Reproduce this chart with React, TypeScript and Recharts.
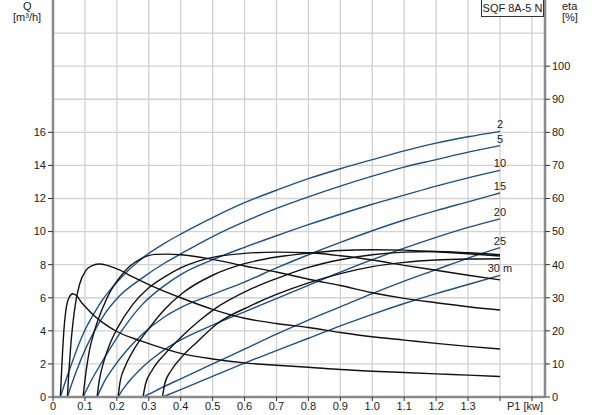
import { LineChart, Line, XAxis, YAxis, CartesianGrid } from 'recharts';

type Pt = [number, number];

// head of each curve pair, printed at the end of the flow curves
const heads = ['2', '5', '10', '15', '20', '25', '30 m'];

// flow Q [m³/h] against input power P1 [kW]
const flow2: Pt[] = [[0.023, 0], [0.04, 1.0], [0.062, 2.2], [0.08, 3.15], [0.104, 4.2], [0.13, 5.1], [0.156, 5.9], [0.208, 7.1], [0.28, 8.4], [0.35, 9.3], [0.4, 9.85], [0.5, 10.85], [0.6, 11.75], [0.7, 12.5], [0.8, 13.2], [0.9, 13.8], [1.0, 14.35], [1.1, 14.88], [1.2, 15.35], [1.3, 15.73], [1.4, 16.06]];
const flow5: Pt[] = [[0.045, 0], [0.07, 1.4], [0.104, 3.0], [0.13, 4.0], [0.156, 4.85], [0.208, 6.1], [0.28, 7.2], [0.35, 8.1], [0.4, 8.65], [0.5, 9.7], [0.6, 10.6], [0.7, 11.4], [0.8, 12.1], [0.9, 12.75], [1.0, 13.35], [1.1, 13.9], [1.2, 14.35], [1.3, 14.8], [1.4, 15.2]];
const flow10: Pt[] = [[0.094, 0], [0.12, 1.0], [0.156, 2.2], [0.208, 3.8], [0.28, 5.6], [0.35, 6.75], [0.4, 7.4], [0.5, 8.3], [0.6, 9.05], [0.7, 9.75], [0.8, 10.42], [0.9, 11.05], [1.0, 11.65], [1.1, 12.2], [1.2, 12.75], [1.3, 13.25], [1.4, 13.7]];
const flow15: Pt[] = [[0.138, 0], [0.16, 0.9], [0.19, 1.8], [0.23, 2.8], [0.28, 3.8], [0.35, 4.85], [0.4, 5.4], [0.5, 6.2], [0.6, 6.95], [0.7, 7.8], [0.8, 8.6], [0.9, 9.35], [1.0, 10.05], [1.1, 10.7], [1.2, 11.27], [1.3, 11.8], [1.4, 12.33]];
const flow20: Pt[] = [[0.204, 0], [0.215, 0.35], [0.23, 0.75], [0.25, 1.2], [0.28, 1.8], [0.32, 2.45], [0.36, 3.0], [0.4, 3.45], [0.5, 4.35], [0.6, 5.15], [0.7, 5.95], [0.8, 6.75], [0.9, 7.55], [1.0, 8.3], [1.1, 9.0], [1.2, 9.65], [1.3, 10.25], [1.4, 10.77]];
const flow25: Pt[] = [[0.282, 0], [0.3, 0.17], [0.35, 0.65], [0.4, 1.1], [0.5, 2.0], [0.6, 2.9], [0.7, 3.8], [0.8, 4.65], [0.9, 5.45], [1.0, 6.25], [1.1, 7.0], [1.2, 7.7], [1.3, 8.4], [1.4, 9.03]];
const flow30: Pt[] = [[0.343, 0], [0.4, 0.45], [0.5, 1.25], [0.6, 2.05], [0.7, 2.8], [0.8, 3.55], [0.9, 4.3], [1.0, 5.0], [1.1, 5.65], [1.2, 6.25], [1.3, 6.8], [1.4, 7.35]];

// efficiency eta [%] against P1 [kW]
const eta2: Pt[] = [[0.023, 0], [0.028, 10], [0.034, 20], [0.04, 26], [0.05, 30], [0.062, 31.2], [0.075, 30.5], [0.09, 28.5], [0.104, 27], [0.13, 24.5], [0.156, 22.5], [0.2, 19.8], [0.28, 16.8], [0.4, 13.2], [0.5, 11.5], [0.6, 10.3], [0.7, 9.6], [0.8, 9.0], [0.9, 8.3], [1.0, 7.8], [1.1, 7.4], [1.2, 7.0], [1.3, 6.6], [1.4, 6.2]];
const eta5: Pt[] = [[0.045, 0], [0.05, 8], [0.056, 16], [0.062, 22], [0.07, 28], [0.083, 34], [0.104, 38.4], [0.125, 39.8], [0.145, 40.2], [0.17, 39.8], [0.208, 38.4], [0.25, 36.3], [0.3, 34], [0.4, 30], [0.5, 26.5], [0.6, 23.8], [0.7, 22.2], [0.8, 21], [0.9, 19.5], [1.0, 18.2], [1.1, 17.2], [1.2, 16.2], [1.3, 15.3], [1.4, 14.5]];
const eta10: Pt[] = [[0.094, 0], [0.1, 5], [0.114, 14], [0.13, 20], [0.156, 27], [0.18, 32], [0.208, 36], [0.24, 39.5], [0.28, 42], [0.32, 43.1], [0.36, 43.2], [0.4, 43], [0.5, 41.6], [0.6, 39.6], [0.7, 37.8], [0.8, 35.6], [0.9, 33.7], [1.0, 31.5], [1.1, 29.8], [1.2, 28.5], [1.3, 27.3], [1.4, 26.3]];
const eta15: Pt[] = [[0.138, 0], [0.145, 5], [0.16, 11], [0.178, 16], [0.2, 20.5], [0.25, 28], [0.3, 33], [0.355, 36.6], [0.4, 39], [0.46, 41.2], [0.5, 42.2], [0.6, 43.4], [0.7, 43.8], [0.8, 43.6], [0.9, 42.7], [1.0, 41.4], [1.1, 39.8], [1.2, 38.3], [1.3, 36.8], [1.4, 35.4]];
const eta20: Pt[] = [[0.204, 0], [0.21, 4.5], [0.225, 9], [0.25, 13.8], [0.303, 21], [0.35, 26.5], [0.407, 31.5], [0.5, 36.8], [0.6, 40.3], [0.7, 42.3], [0.8, 43.5], [0.9, 44.3], [1.0, 44.5], [1.1, 44.4], [1.2, 43.9], [1.3, 43.3], [1.4, 42.6]];
const eta25: Pt[] = [[0.282, 0], [0.29, 4], [0.31, 8], [0.355, 13.5], [0.4, 18], [0.46, 23.2], [0.5, 26.2], [0.617, 32.5], [0.7, 35.8], [0.8, 39.2], [0.9, 41.5], [1.0, 43], [1.1, 43.8], [1.2, 44], [1.3, 43.6], [1.4, 43]];
const eta30: Pt[] = [[0.343, 0], [0.35, 4], [0.37, 8], [0.407, 12.5], [0.45, 16.5], [0.512, 22], [0.617, 27.5], [0.7, 31], [0.8, 34.5], [0.9, 37.3], [1.0, 39.4], [1.1, 40.7], [1.2, 41.4], [1.3, 41.7], [1.4, 41.8]];

const flowCurves = [flow2, flow5, flow10, flow15, flow20, flow25, flow30];
const etaCurves = [eta2, eta5, eta10, eta15, eta20, eta25, eta30];

const pTicks = [0, 0.1, 0.2, 0.3, 0.4, 0.5, 0.6, 0.7, 0.8, 0.9, 1.0, 1.1, 1.2, 1.3, 1.4, 1.5];
const qTicks = [0, 2, 4, 6, 8, 10, 12, 14, 16];
const qGrid = [2, 4, 6, 8, 10, 12, 14, 16, 18, 20, 22];
const etaTicks = [0, 10, 20, 30, 40, 50, 60, 70, 80, 90, 100];

const BLUE = '#1d4f8a';
const AXIS = '#8a8a8a';
const FONT = '"Liberation Sans", Arial, sans-serif';
const tickStyle = { fontSize: 11, fill: '#222', fontFamily: FONT };

const toRows = (pts: Pt[]) => pts.map(([p, v]) => ({ p, v }));

const endLabel = (text: string, last: number) => (props: any) => {
  if (props.index !== last) return null;
  return (
    <text x={props.x} y={props.y - 3} textAnchor="middle" fontSize={11} fontFamily={FONT} fill="#222">
      {text}
    </text>
  );
};

const overlay = (left: number, top: number, text: string) => (
  <div style={{ position: 'absolute', left, top, fontSize: 11, fontFamily: FONT, color: '#222', lineHeight: '12px', whiteSpace: 'nowrap' }}>
    {text}
  </div>
);

export default function App() {
  return (
    <div style={{ position: 'absolute', left: 0, top: 0, width: 593, height: 415, background: '#fff' }}>
      <LineChart width={593} height={415} margin={{ top: 0, right: 0, bottom: 0, left: 0 }}>
        <CartesianGrid
          yAxisId="q"
          stroke="#d2d2d2"
          strokeWidth={1.3}
          horizontalValues={qGrid}
          verticalValues={pTicks.slice(1)}
        />
        <XAxis
          type="number"
          dataKey="p"
          domain={[0, 1.541]}
          ticks={pTicks}
          interval={0}
          height={18}
          tickSize={4}
          tickMargin={1}
          tick={tickStyle}
          tickFormatter={(v: number) => (v > 1.35 ? '' : v === 0 ? '0' : v.toFixed(1))}
          axisLine={{ stroke: AXIS, strokeWidth: 2.5 }}
          tickLine={{ stroke: '#333' }}
        />
        <YAxis
          yAxisId="q"
          orientation="left"
          type="number"
          domain={[0, 24]}
          ticks={qTicks}
          interval={0}
          width={53}
          tickSize={5}
          tickMargin={2}
          tick={tickStyle}
          axisLine={{ stroke: AXIS, strokeWidth: 2.5 }}
          tickLine={{ stroke: '#333' }}
        />
        <YAxis
          yAxisId="eta"
          orientation="right"
          type="number"
          domain={[0, 120]}
          ticks={etaTicks}
          interval={0}
          width={48}
          tickSize={5}
          tickMargin={2}
          tick={tickStyle}
          axisLine={{ stroke: AXIS, strokeWidth: 2.5 }}
          tickLine={{ stroke: '#333' }}
        />
        {flowCurves.map((c, i) => (
          <Line
            key={'q' + i}
            yAxisId="q"
            data={toRows(c)}
            dataKey="v"
            type="monotone"
            stroke={BLUE}
            strokeWidth={1.4}
            dot={false}
            isAnimationActive={false}
            label={endLabel(heads[i], c.length - 1)}
          />
        ))}
        {etaCurves.map((c, i) => (
          <Line
            key={'e' + i}
            yAxisId="eta"
            data={toRows(c)}
            dataKey="v"
            type="monotone"
            stroke="#111"
            strokeWidth={1.4}
            dot={false}
            isAnimationActive={false}
          />
        ))}
      </LineChart>
      {overlay(23, 0, 'Q')}
      {overlay(13, 11, '[m³/h]')}
      {overlay(562, 0, 'eta')}
      {overlay(562, 11, '[%]')}
      {overlay(507, 400, 'P1 [kw]')}
      <div
        style={{
          position: 'absolute', left: 481, top: -1, width: 61, height: 16, border: '1px solid #333',
          background: '#fff', fontSize: 11, fontFamily: FONT, color: '#222', lineHeight: '16px', textAlign: 'center',
        }}
      >
        SQF 8A-5 N
      </div>
    </div>
  );
}
